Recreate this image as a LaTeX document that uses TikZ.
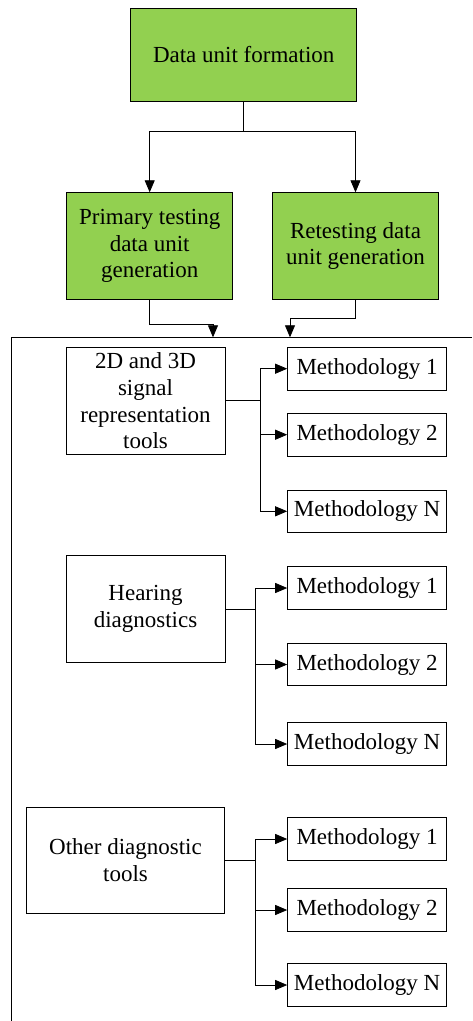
\documentclass[tikz,border=0pt]{standalone}
\usepackage{fontspec}
\setmainfont{Liberation Serif}
\usetikzlibrary{arrows.meta}
\definecolor{grn}{HTML}{92D050}
\begin{document}
\begin{tikzpicture}[x=1pt,y=-1pt,
  box/.style={draw=black,line width=0.8pt,inner sep=0pt,align=center,
    font=\fontsize{23}{26.8}\selectfont},
  gbox/.style={box,fill=grn},
  mbox/.style={box,minimum width=159pt,minimum height=42.7pt},
  ln/.style={line width=0.8pt},
  arr/.style={ln,-{Triangle[length=12pt,width=10pt]}}]
\useasboundingbox (0,0) rectangle (472,1021);
% green boxes
\node[gbox,minimum width=226pt,minimum height=92.3pt] (top) at (243.7,55) {Data unit formation};
\node[gbox,minimum width=166pt,minimum height=106.6pt] (prim) at (149.7,246) {Primary testing\\data unit\\generation};
\node[gbox,minimum width=166pt,minimum height=106.6pt] (ret) at (355.5,246) {Retesting data\\unit generation};
\draw[ln] (top.south) -- ++(0,30) coordinate (tb);
\draw[arr] (tb) -| (prim.north);
\draw[arr] (tb) -| (ret.north);
% frame
\coordinate (ftl) at (11,337.3);
\coordinate (ftr) at (472,337.3);
\coordinate (fbl) at (11,1021);
\draw[ln] (fbl) -- (ftl) -- (ftr);
\coordinate (f1) at (213,337.3);
\coordinate (f1k) at (213,324);
\coordinate (f2) at (290,337.3);
\coordinate (f2k) at (290,318.3);
\draw[arr] (prim.south) |- (f1k) -- (f1);
\draw[arr] (ret.south) |- (f2k) -- (f2);
% group 1
\node[box,minimum width=159pt,minimum height=107pt] (g1) at (145.5,400.8) {2D and 3D\\signal\\representation\\tools};
\node[mbox] (m11) at (367.1,368.7) {Methodology 1};
\node[mbox] (m12) at (367.1,434.7) {Methodology 2};
\node[mbox] (m13) at (367.1,511.3) {Methodology N};
\draw[ln] (g1.east) -- (260.7,400.8) coordinate (b1);
\draw[arr] (b1) |- (m11.west);
\draw[arr] (b1) |- (m12.west);
\draw[arr] (b1) |- (m13.west);
% group 2
\node[box,minimum width=159pt,minimum height=107pt] (g2) at (145.5,609.2) {Hearing\\diagnostics};
\node[mbox] (m21) at (367.1,588) {Methodology 1};
\node[mbox] (m22) at (367.1,664.5) {Methodology 2};
\node[mbox] (m23) at (367.1,744) {Methodology N};
\draw[ln] (g2.east) -- (255.7,609.2) coordinate (b2);
\draw[arr] (b2) |- (m21.west);
\draw[arr] (b2) |- (m22.west);
\draw[arr] (b2) |- (m23.west);
% group 3
\node[box,minimum width=197.6pt,minimum height=106.3pt] (g3) at (125.5,860.2) {Other diagnostic\\tools};
\node[mbox] (m31) at (367.1,839) {Methodology 1};
\node[mbox] (m32) at (367.1,910) {Methodology 2};
\node[mbox] (m33) at (367.1,985) {Methodology N};
\draw[ln] (g3.east) -- (255.7,860.2) coordinate (b3);
\draw[arr] (b3) |- (m31.west);
\draw[arr] (b3) |- (m32.west);
\draw[arr] (b3) |- (m33.west);
\end{tikzpicture}
\end{document}
